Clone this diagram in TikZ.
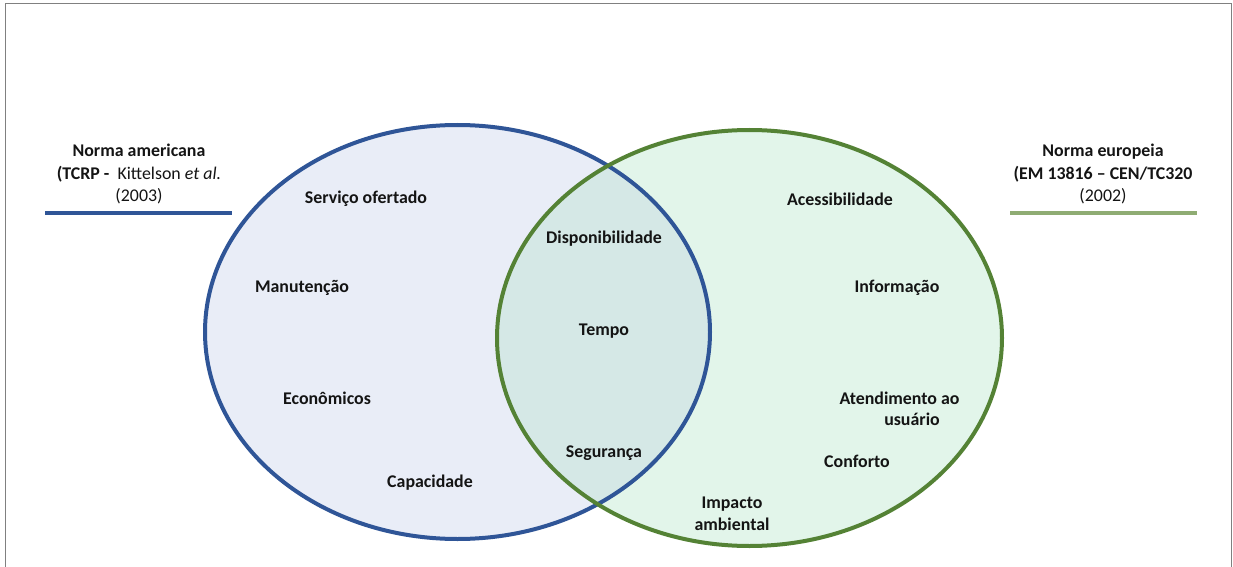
\documentclass[tikz,border=0pt]{standalone}
\usepackage{fontspec}
\setmainfont{Carlito}
\definecolor{bluestroke}{RGB}{47,85,151}
\definecolor{bluefill}{RGB}{233,237,247}
\definecolor{greenstroke}{RGB}{84,130,53}
\definecolor{greenfill}{RGB}{226,245,234}
\definecolor{overlapfill}{RGB}{213,232,230}
\definecolor{greenbar}{RGB}{143,172,115}
\definecolor{framegray}{RGB}{128,128,128}
\definecolor{txt}{RGB}{20,20,20}
\tikzset{
  lbl/.style={font=\fontsize{13.4}{16.9}\selectfont\bfseries, text=txt, inner sep=0pt, align=center},
  head/.style={font=\fontsize{13.4}{16.9}\selectfont, text=txt, inner sep=0pt, align=center},
  setline/.style={line width=3pt},
  legendbar/.style={line width=3pt},
}
\begin{document}
\begin{tikzpicture}[x=0.75pt,y=-0.75pt]
  \useasboundingbox (0,0) rectangle (1233,567);
  % outer frame (open at the bottom)
  \draw[framegray, line width=1.2pt] (5.5,567) -- (5.5,3.5) -- (1231.5,3.5) -- (1231.5,567);

  % set fills
  \fill[bluefill] (457.5,332) ellipse [x radius=252.5, y radius=207];
  \fill[greenfill] (749.5,338) ellipse [x radius=252.5, y radius=208];
  \begin{scope}
    \clip (457.5,332) ellipse [x radius=252.5, y radius=207];
    \fill[overlapfill] (749.5,338) ellipse [x radius=252.5, y radius=208];
  \end{scope}
  % set outlines
  \draw[bluestroke, setline] (457.5,332) ellipse [x radius=252.5, y radius=207];
  \draw[greenstroke, setline] (749.5,338) ellipse [x radius=252.5, y radius=208];

  % headings with legend bars
  \node[head] (usa) at (139,174)
    {\textbf{Norma americana}\\\textbf{(TCRP -}\ \ Kittelson \textit{et al.}\\(2003)};
  \coordinate (usaL) at (45,213);
  \coordinate (usaR) at (232,213);
  \draw[bluestroke, legendbar] (usaL) -- (usaR);

  \node[head] (eu) at (1103,174)
    {\textbf{Norma europeia}\\\textbf{(EM 13816 – CEN/TC320}\\(2002)};
  \coordinate (euL) at (1010,213);
  \coordinate (euR) at (1197,213);
  \draw[greenbar, legendbar] (euL) -- (euR);

  % American-only criteria
  \node[lbl] (servico) at (366,199) {Serviço ofertado};
  \node[lbl] (manut) at (302,288) {Manutenção};
  \node[lbl] (econ) at (327,398) {Econômicos};
  \node[lbl] (capac) at (430,483) {Capacidade};

  % shared criteria
  \node[lbl] (dispon) at (604,239) {Disponibilidade};
  \node[lbl] (tempo) at (604,331) {Tempo};
  \node[lbl] (segur) at (604,453) {Segurança};

  % European-only criteria
  \node[lbl] (acess) at (840,199) {Acessibilidade};
  \node[lbl] (info) at (897,288) {Informação};
  \node[lbl] (atendA) at (899.5,398) {Atendimento ao};
  \node[lbl] (atendB) at (912,419) {usuário};
  \node[lbl] (conf) at (857,461) {Conforto};
  \node[lbl] (impacto) at (732,514) {Impacto\\ambiental};
\end{tikzpicture}
\end{document}
